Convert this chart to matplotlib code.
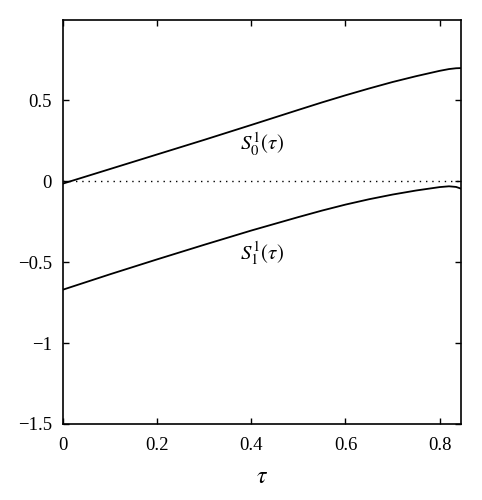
import matplotlib
matplotlib.use('Agg')
import matplotlib.pyplot as plt
import numpy as np

# values
tau = [0, 0.1, 0.2, 0.3, 0.4, 0.5, 0.55, 0.6, 0.65, 0.7, 0.75, 0.8, 0.82, 0.835, 0.845]
s0 = [-0.015, 0.075, 0.165, 0.255, 0.347, 0.44, 0.486, 0.53, 0.572, 0.612, 0.648, 0.681, 0.692, 0.697, 0.698]
s1 = [-0.67, -0.575, -0.483, -0.393, -0.305, -0.222, -0.182, -0.145, -0.112, -0.083, -0.058, -0.037, -0.032, -0.036, -0.046]

xticks = [0, 0.2, 0.4, 0.6, 0.8]
xticklabels = ['0', '0.2', '0.4', '0.6', '0.8']
yticks = [-1.5, -1, -0.5, 0, 0.5]
yticklabels = ['\u22121.5', '\u22121', '\u22120.5', '0', '0.5']

plt.rcParams['font.family'] = 'Liberation Serif'
plt.rcParams['mathtext.fontset'] = 'stix'

fig = plt.figure(figsize=(4.82, 5.0), dpi=100)
ax = fig.add_axes([0.131, 0.152, 0.825, 0.808])

ax.plot(tau, s0, color='black', lw=1.3)
ax.plot(tau, s1, color='black', lw=1.3)
ax.axhline(0, color='black', lw=1.0, ls=(0, (1, 3.5)))

ax.text(0.422, 0.229, r'$S_0^1(\tau)$', fontsize=15, ha='center', va='center')
ax.text(0.422, -0.445, r'$S_1^1(\tau)$', fontsize=15, ha='center', va='center')

ax.set_xlim(0, 0.845)
ax.set_ylim(-1.5, 0.995)
ax.set_xticks(xticks)
ax.set_xticklabels(xticklabels)
ax.set_yticks(yticks)
ax.set_yticklabels(yticklabels)
ax.tick_params(direction='in', top=True, right=True, labelsize=13.5, length=4, width=1)
ax.tick_params(axis='x', pad=9)
ax.tick_params(axis='y', pad=8)
for sp in ax.spines.values():
    sp.set_linewidth(1.2)
ax.set_xlabel(r'$\tau$', fontsize=17, labelpad=10)

fig.savefig('out.png', dpi=100)
